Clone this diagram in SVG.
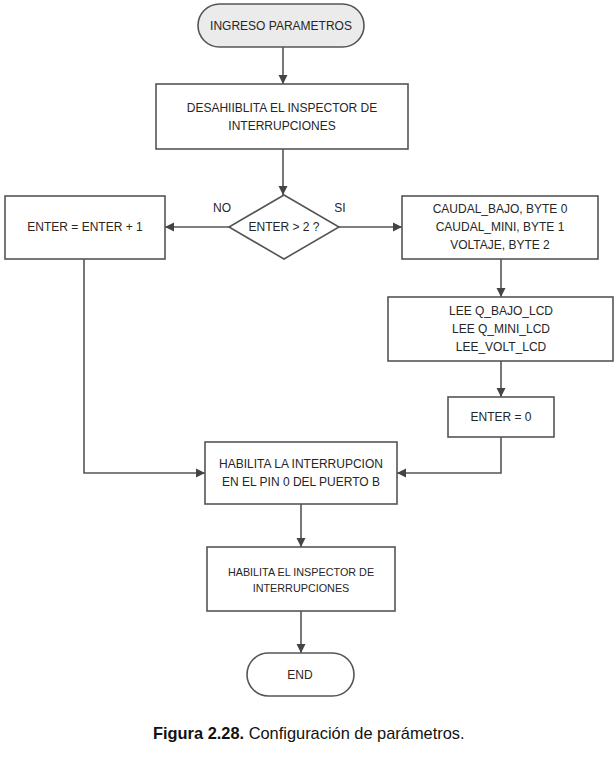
<svg xmlns="http://www.w3.org/2000/svg" width="616" height="760" viewBox="0 0 616 760">
<style>
.shape{fill:#ffffff;stroke:#555555;stroke-width:1.6}
.term{fill:#ebebeb;stroke:#555555;stroke-width:1.6}
.t{font-family:"Liberation Sans",Arial,sans-serif;font-size:12px;fill:#262626;text-anchor:middle;dominant-baseline:central}
.s{font-size:10.8px}
.conn{fill:none;stroke:#555555;stroke-width:1.6}
.cap{font-family:"Liberation Sans",Arial,sans-serif;font-size:16.4px;fill:#111111}
</style>
<defs>
<marker id="arr" markerWidth="10" markerHeight="10" refX="9" refY="5" orient="auto" markerUnits="userSpaceOnUse">
<path d="M0,0.5 L9,5 L0,9.5 Z" fill="#444444"/>
</marker>
</defs>
<rect width="616" height="760" fill="#ffffff"/>
<g id="connectors">
<path class="conn" d="M283,47 V84" marker-end="url(#arr)"/>
<path class="conn" d="M283,149 V195" marker-end="url(#arr)"/>
<path class="conn" d="M229,227 H165" marker-end="url(#arr)"/>
<path class="conn" d="M339,227 H402" marker-end="url(#arr)"/>
<path class="conn" d="M501,259 V297" marker-end="url(#arr)"/>
<path class="conn" d="M501,361 V397" marker-end="url(#arr)"/>
<path class="conn" d="M84,259 V473 H205" marker-end="url(#arr)"/>
<path class="conn" d="M501,437 V473 H397" marker-end="url(#arr)"/>
<path class="conn" d="M301,504 V547" marker-end="url(#arr)"/>
<path class="conn" d="M301,611 V653" marker-end="url(#arr)"/>
<text class="t" x="222" y="208">NO</text>
<text class="t" x="340" y="208">SI</text>
</g>
<g id="start">
<rect class="term" x="198" y="4" width="166" height="43" rx="21.5"/>
<text class="t" x="281" y="26">INGRESO PARAMETROS</text>
</g>
<g id="disable">
<rect class="shape" x="156" y="84" width="252" height="65"/>
<text class="t" x="282" y="108">DESAHIIBLITA EL INSPECTOR DE</text>
<text class="t" x="282" y="126">INTERRUPCIONES</text>
</g>
<g id="decision">
<polygon class="shape" points="284,195 339,227 284,259 229,227"/>
<text class="t" x="284" y="227">ENTER &gt; 2 ?</text>
</g>
<g id="increment">
<rect class="shape" x="5" y="196" width="160" height="63"/>
<text class="t" x="85" y="227">ENTER = ENTER + 1</text>
</g>
<g id="bytes">
<rect class="shape" x="402" y="196" width="196" height="63"/>
<text class="t" x="500" y="209">CAUDAL_BAJO, BYTE 0</text>
<text class="t" x="500" y="227">CAUDAL_MINI, BYTE 1</text>
<text class="t" x="500" y="245">VOLTAJE, BYTE 2</text>
</g>
<g id="read">
<rect class="shape" x="388" y="297" width="225" height="64"/>
<text class="t" x="501" y="311">LEE Q_BAJO_LCD</text>
<text class="t" x="501" y="329">LEE Q_MINI_LCD</text>
<text class="t" x="501" y="347">LEE_VOLT_LCD</text>
</g>
<g id="reset">
<rect class="shape" x="448" y="397" width="106" height="40"/>
<text class="t" x="501" y="417">ENTER = 0</text>
</g>
<g id="enable-int">
<rect class="shape" x="205" y="442" width="192" height="62"/>
<text class="t" x="301" y="464">HABILITA LA INTERRUPCION</text>
<text class="t" x="301" y="482">EN EL PIN 0 DEL PUERTO B</text>
</g>
<g id="enable-inspector">
<rect class="shape" x="207" y="547" width="188" height="64"/>
<text class="t s" x="301" y="572">HABILITA EL INSPECTOR DE</text>
<text class="t s" x="301" y="588">INTERRUPCIONES</text>
</g>
<g id="end">
<rect class="shape" x="247" y="653" width="107" height="43" rx="21.5"/>
<text class="t" x="300" y="675">END</text>
</g>
<text class="cap" x="153" y="739"><tspan font-weight="bold">Figura 2.28.</tspan> Configuración de parámetros.</text>
</svg>
